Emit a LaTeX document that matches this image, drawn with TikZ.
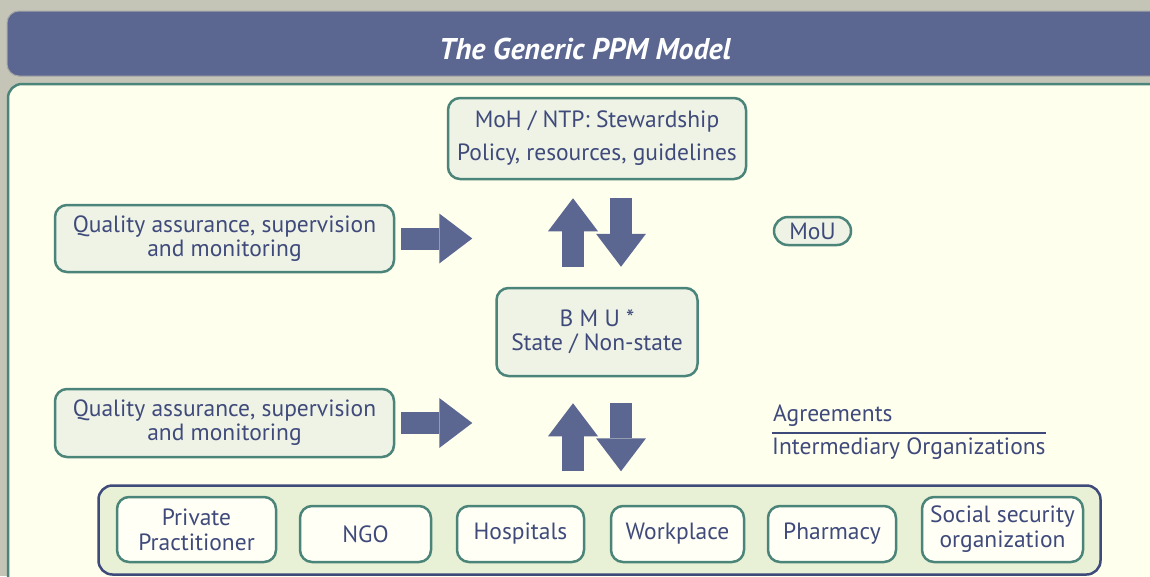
\documentclass[tikz,border=0pt]{standalone}
\usepackage{fontspec}
\setmainfont{PT Sans}
\usepackage{xcolor}
\usepackage{tikz}
\usetikzlibrary{arrows.meta,calc}
\definecolor{bggray}{HTML}{C4C5B7}
\definecolor{ppmblue}{HTML}{5B6791}
\definecolor{ppmivory}{HTML}{FFFFEE}
\definecolor{ppmteal}{HTML}{4B8478}
\definecolor{boxgreen}{HTML}{EEF3E6}
\definecolor{ppmtext}{HTML}{3F4A7B}
\definecolor{bandgreen}{HTML}{E8F1D6}
\definecolor{ppmnavy}{HTML}{3E4A7A}
\definecolor{provfill}{HTML}{FFFFF6}

\begin{document}
\begin{tikzpicture}[x=1pt,y=-1pt]
    \tikzstyle{box}=[draw=ppmteal, line width=2.5pt, fill=boxgreen, rounded corners=12pt, text=ppmtext, align=center, inner sep=0pt, font=\fontsize{23.5}{24}\selectfont]
\tikzstyle{provider}=[box, fill=provfill, font=\fontsize{23.5}{25}\selectfont]
\tikzstyle{bigarrow}=[draw=ppmblue, line width=22pt, -{Triangle[length=33pt, width=50pt, line width=0pt]}]
\tikzstyle{label}=[text=ppmtext, inner sep=0pt, anchor=west, font=\fontsize{23.5}{24}\selectfont]
\useasboundingbox (0,0) rectangle (1150,576);
\clip (0,0) rectangle (1150,576);
\fill[bggray] (0,0) rectangle (1150,576);
\node[draw=gray!70, line width=1pt, fill=ppmblue, rounded corners=12pt,
    minimum width=1158pt, minimum height=65pt, inner sep=0pt] (titlebar) at (586,43.5) {};
\node[text=white, inner sep=0pt, font=\fontsize{30}{34}\selectfont\bfseries\itshape] (title) at (585,49) {The Generic PPM Model};
\draw[draw=ppmteal, line width=2.5pt, fill=ppmivory, rounded corners=14pt] (8,84) rectangle (1180,640);
\node[box, minimum width=298pt, minimum height=81pt, font=\fontsize{23.5}{33}\selectfont] (moh) at (597,138.5)
    {MoH / NTP: Stewardship\\Policy, resources, guidelines};
\node[box, minimum width=339pt, minimum height=67pt] (qaup) at (224.5,238.5)
    {Quality assurance, supervision\\and monitoring};
\node[box, minimum width=201pt, minimum height=88pt] (bmu) at (597,332)
    {B M U *\\State / Non-state};
\node[box, minimum width=339pt, minimum height=68pt] (qalow) at (224.5,423)
    {Quality assurance, supervision\\and monitoring};
\node[box, rounded corners=14pt, minimum width=77pt, minimum height=28pt] (mou) at (812.5,231) {MoU};
\node[label] (agree) at (773,416) {Agreements};
\node[label] (interm) at (772,449) {Intermediary Organizations};
\draw[ppmnavy, line width=2.5pt] ([yshift=5pt]interm.north west) -- ([yshift=5pt]interm.north east);
\node[draw=ppmnavy, line width=2.5pt, fill=bandgreen, rounded corners=14pt,
    minimum width=1002pt, minimum height=89pt, inner sep=0pt] (band) at (599.5,530) {};
\node[provider, minimum width=159pt, minimum height=65pt] (private) at (196.5,529.5) {Private\\Practitioner};
\node[provider, minimum width=131pt, minimum height=56pt] (ngo) at (365.5,534) {NGO};
\node[provider, minimum width=127pt, minimum height=56pt] (hospitals) at (520.5,534) {Hospitals};
\node[provider, minimum width=133pt, minimum height=56pt] (workplace) at (677.5,534) {Workplace};
\node[provider, minimum width=128pt, minimum height=56pt] (pharmacy) at (832,534) {Pharmacy};
\node[provider, minimum width=161pt, minimum height=65pt] (social) at (1002.5,529.5) {Social security\\organization};
\draw[bigarrow] ($(bmu.north)+(-24,-20)$) -- ($(moh.south)+(-24,18)$);
\draw[bigarrow] ($(moh.south)+(24,18)$) -- ($(bmu.north)+(24,-20)$);
\draw[bigarrow] ($(band.north)+(-26.5,-13)$) -- ($(bmu.south)+(-24,26)$);
\draw[bigarrow] ($(bmu.south)+(24,26)$) -- ($(band.north)+(21.5,-13)$);
\draw[bigarrow] ($(qaup.east)+(6,0)$) -- ($(qaup.east)+(77,0)$);
\draw[bigarrow] ($(qalow.east)+(6,0)$) -- ($(qalow.east)+(77,0)$);
\end{tikzpicture}
\end{document}
